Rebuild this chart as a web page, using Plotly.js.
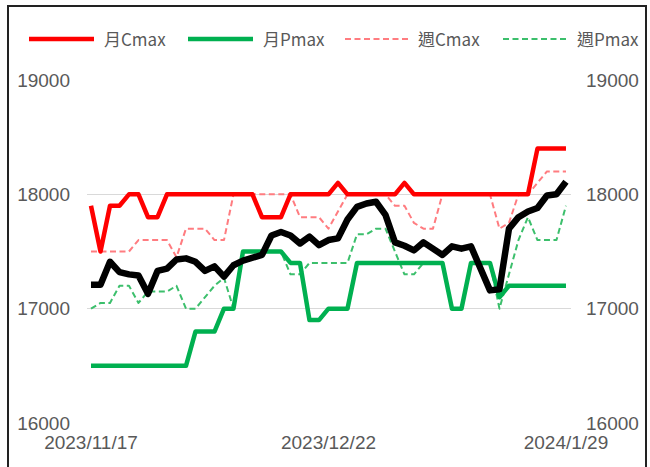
<!DOCTYPE html>
<html><head><meta charset="utf-8">
<script src="https://cdn.plot.ly/plotly-3.0.1.min.js"></script>
<style>
html,body{margin:0;padding:0;background:#fff;}
#wrap{position:relative;width:650px;height:467px;overflow:hidden;}
#chart{position:absolute;left:0;top:0;width:650px;height:467px;}
#frame{position:absolute;left:7px;top:5px;width:636px;height:470px;border:2px solid #222;pointer-events:none;}
#chart path.js-line{stroke-linejoin:round !important;}
</style></head><body>
<div id="wrap"><div id="chart"></div><div id="frame"></div></div>
<script>
const categories = [
 '2023/11/17','2023/11/20','2023/11/21','2023/11/22','2023/11/23','2023/11/24',
 '2023/11/27','2023/11/28','2023/11/29','2023/11/30','2023/12/1',
 '2023/12/4','2023/12/5','2023/12/6','2023/12/7','2023/12/8',
 '2023/12/11','2023/12/12','2023/12/13','2023/12/14','2023/12/15',
 '2023/12/18','2023/12/19','2023/12/20','2023/12/21','2023/12/22',
 '2023/12/25','2023/12/26','2023/12/27','2023/12/28','2023/12/29',
 '2024/1/2','2024/1/3','2024/1/4','2024/1/5',
 '2024/1/8','2024/1/9','2024/1/10','2024/1/11','2024/1/12',
 '2024/1/15','2024/1/16','2024/1/17','2024/1/18','2024/1/19',
 '2024/1/22','2024/1/23','2024/1/24','2024/1/25','2024/1/26',
 '2024/1/29'
];
const monthCmax = [17900,17500,17900,17900,18000,18000,17800,17800,18000,18000,
 18000,18000,18000,18000,18000,18000,18000,18000,17800,17800,
 17800,18000,18000,18000,18000,18000,18100,18000,18000,18000,
 18000,18000,18000,18100,18000,18000,18000,18000,18000,18000,
 18000,18000,18000,18000,18000,18000,18000,18400,18400,18400,18400];
const monthPmax = [16500,16500,16500,16500,16500,16500,16500,16500,16500,16500,
 16500,16800,16800,16800,17000,17000,17500,17500,17500,17500,
 17500,17400,17400,16900,16900,17000,17000,17000,17400,17400,
 17400,17400,17400,17400,17400,17400,17400,17400,17000,17000,
 17400,17400,17400,17100,17200,17200,17200,17200,17200,17200,17200];
const weekCmax = [17500,17500,17500,17500,17500,17600,17600,17600,17600,17450,
 17700,17700,17700,17600,17600,18000,18000,18000,18000,18000,
 18000,18000,17800,17800,17800,17700,17850,18000,18000,18000,
 18000,18000,17900,17900,17750,17700,17700,18000,18000,18000,
 18000,18000,18000,17700,17750,18000,18000,18100,18200,18200,18200];
const weekPmax = [17000,17050,17050,17200,17200,17050,17150,17150,17150,17200,
 17000,17000,17100,17200,17270,17000,17500,17500,17500,17500,
 17500,17300,17300,17400,17400,17400,17400,17400,17650,17650,
 17700,17700,17500,17300,17300,17400,17400,17400,17000,17000,
 17400,17400,17400,17000,17300,17600,17800,17600,17600,17600,17900];
const blackSeries = [17210,17210,17410,17320,17300,17290,17130,17330,17350,17430,
 17440,17410,17330,17370,17280,17380,17420,17450,17470,17640,
 17670,17640,17570,17630,17555,17600,17615,17780,17890,17920,
 17935,17820,17580,17550,17510,17580,17525,17470,17545,17525,
 17545,17340,17160,17170,17700,17800,17850,17880,17990,18000,18110];
const xTickLabels = ['2023/11/17','2023/12/22','2024/1/29'];
const yTicks = [16000,17000,18000,19000];
const seriesNames = ['月Cmax','月Pmax','週Cmax','週Pmax'];

const RED='#FF0000', GREEN='#00B050', PINK='#FF7C80', LGREEN='#3CBF6C';
const DASH='6px,3.5px';

const traces = [
 {x:categories, y:weekCmax, name:seriesNames[2], mode:'lines', line:{color:PINK,width:2,dash:DASH}},
 {x:categories, y:weekPmax, name:seriesNames[3], mode:'lines', line:{color:LGREEN,width:2,dash:DASH}},
 {x:categories, y:monthCmax, name:seriesNames[0], mode:'lines', line:{color:RED,width:4.5}},
 {x:categories, y:monthPmax, name:seriesNames[1], mode:'lines', line:{color:GREEN,width:4.5}},
 {x:categories, y:blackSeries, name:'', mode:'lines', yaxis:'y2', line:{color:'#000000',width:6.5}}
];

const L=87, R=571, T=80, B=423, W=R-L, H=B-T;
const px = v => (v-L)/W;
const py = v => (B-v)/H;
const tickFont = {family:'"Liberation Sans", Arial, sans-serif', size:19, color:'#595959'};
const legFont = {family:'"Noto Sans CJK TC", "Noto Sans", sans-serif', size:17, color:'#595959'};

const legendItems = [
 {name:seriesNames[0], color:RED, width:4.5, dash:'solid', x0:29, x1:94, tx:102},
 {name:seriesNames[1], color:GREEN, width:4.5, dash:'solid', x0:188, x1:253, tx:261},
 {name:seriesNames[2], color:PINK, width:2, dash:DASH, x0:345, x1:409, tx:416},
 {name:seriesNames[3], color:LGREEN, width:2, dash:DASH, x0:503, x1:568, tx:575}
];
const legY = 39;
const shapes = legendItems.map(it => ({type:'line', xref:'paper', yref:'paper',
  x0:px(it.x0), x1:px(it.x1), y0:py(legY), y1:py(legY), line:{color:it.color, width:it.width, dash:it.dash}}));
const annotations = legendItems.map(it => ({xref:'paper', yref:'paper', x:px(it.tx), y:py(legY),
  xanchor:'left', yanchor:'middle', showarrow:false, text:it.name, font:legFont}));

const layout = {
 width:650, height:467,
 margin:{l:L, r:650-R, t:T, b:467-B, pad:0},
 paper_bgcolor:'#ffffff', plot_bgcolor:'#ffffff',
 showlegend:false,
 xaxis:{type:'category', range:[-0.42,50.53], tickmode:'array', tickvals:xTickLabels, ticktext:xTickLabels,
   showgrid:false, zeroline:false, showline:false, ticks:'', tickangle:0, tickfont:tickFont,
   ticklabelstandoff:6, automargin:false, fixedrange:true},
 yaxis:{range:[16000,19000], tickmode:'array', tickvals:yTicks, ticktext:yTicks.map(String),
   gridcolor:'#D9D9D9', gridwidth:1, showline:false, zeroline:false, ticks:'', tickfont:tickFont,
   ticklabelstandoff:16, automargin:false, fixedrange:true},
 yaxis2:{overlaying:'y', side:'right', range:[16000,19000], tickmode:'array', tickvals:yTicks, ticktext:yTicks.map(String),
   showgrid:false, zeroline:false, showline:false, ticks:'', tickfont:tickFont, ticklabelstandoff:14, automargin:false, fixedrange:true},
 shapes:shapes, annotations:annotations
};
Plotly.newPlot('chart', traces, layout, {displayModeBar:false, staticPlot:true});
</script>
</body></html>
